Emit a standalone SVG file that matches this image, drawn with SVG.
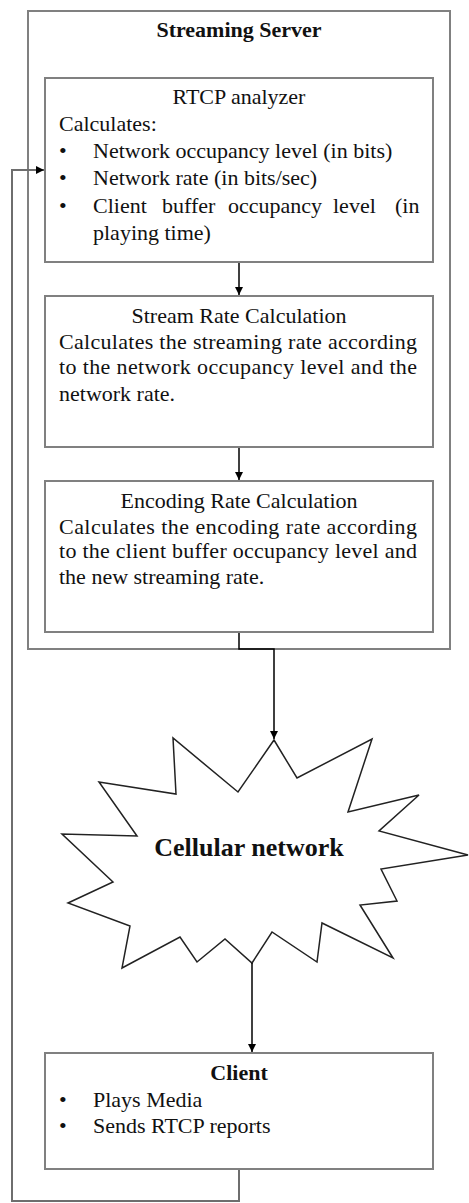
<svg xmlns="http://www.w3.org/2000/svg" width="469" height="1203" viewBox="0 0 469 1203">
  <style>
    .box { fill: #ffffff; stroke: #808080; stroke-width: 2; }
    .wire { fill: none; stroke: #000000; stroke-width: 1.5; }
    .loop { fill: none; stroke: #6e6e6e; stroke-width: 2; }
    .t { font-family: "Liberation Serif", "Times New Roman", serif; font-size: 22px; fill: #111111; }
    .b { font-weight: bold; }
    .c { text-anchor: middle; }
    .star { fill: #ffffff; stroke: #222222; stroke-width: 1.5; stroke-linejoin: miter; }
  </style>
  <defs>
    <marker id="arrow" viewBox="0 0 10 10" refX="10" refY="5" markerWidth="8" markerHeight="8" markerUnits="userSpaceOnUse" orient="auto">
      <path d="M0,0 L10,5 L0,10 z" fill="#000000"/>
    </marker>
  </defs>

  <rect width="469" height="1203" fill="#ffffff"/>

  <!-- server container -->
  <g id="streaming-server">
    <rect class="box" x="28" y="11" width="422" height="638"/>
    <text class="t b c" x="239" y="37">Streaming Server</text>
  </g>

  <g id="rtcp-analyzer">
    <rect class="box" x="45" y="78" width="388" height="184"/>
    <text class="t c" x="239" y="104">RTCP analyzer</text>
    <text class="t" x="59" y="131">Calculates:</text>
    <text class="t" x="59" y="158">•</text>
    <text class="t" x="93" y="158">Network occupancy level (in bits)</text>
    <text class="t" x="59" y="185">•</text>
    <text class="t" x="93" y="185">Network rate (in bits/sec)</text>
    <text class="t" x="59" y="213">•</text>
    <text class="t" y="213"><tspan x="93">Client</tspan><tspan x="162">buffer</tspan><tspan x="228">occupancy</tspan><tspan x="333">level</tspan><tspan x="395">(in</tspan></text>
    <text class="t" x="93" y="240">playing time)</text>
  </g>

  <g id="stream-rate">
    <rect class="box" x="45" y="296" width="388" height="151"/>
    <text class="t c" x="239" y="323">Stream Rate Calculation</text>
    <text class="t" x="59" y="349" textLength="358" lengthAdjust="spacing">Calculates the streaming rate according</text>
    <text class="t" x="59" y="374" textLength="358" lengthAdjust="spacing">to the network occupancy level and the</text>
    <text class="t" x="59" y="401">network rate.</text>
  </g>

  <g id="encoding-rate">
    <rect class="box" x="45" y="481" width="388" height="151"/>
    <text class="t c" x="239" y="508">Encoding Rate Calculation</text>
    <text class="t" x="59" y="534" textLength="358" lengthAdjust="spacing">Calculates the encoding rate  according</text>
    <text class="t" x="59" y="558" textLength="358" lengthAdjust="spacing">to the client buffer occupancy level and</text>
    <text class="t" x="59" y="584">the new streaming rate.</text>
  </g>

  <g id="cellular-network">
    <polygon class="star" points="274,740 297,778 372,739 348,812 419,795 379,831 468,855 381,869 397,901 360,905 393,958 322,923 317,962 272,932 252,963 225,939 197,962 180,937 122,968 130,926 68,903 113,882 62,834 137,836 99,782 176,794 173,738 238,792"/>
    <text class="t b c" x="249" y="856" style="font-size:26px">Cellular network</text>
  </g>

  <g id="client">
    <rect class="box" x="45" y="1053" width="388" height="116"/>
    <text class="t b c" x="239" y="1080">Client</text>
    <text class="t" x="59" y="1107">•</text>
    <text class="t" x="93" y="1107">Plays Media</text>
    <text class="t" x="59" y="1133">•</text>
    <text class="t" x="93" y="1133">Sends RTCP reports</text>
  </g>

  <!-- connectors -->
  <g id="connectors">
    <line class="wire" x1="239" y1="263" x2="239" y2="295" marker-end="url(#arrow)"/>
    <line class="wire" x1="239" y1="448" x2="239" y2="480" marker-end="url(#arrow)"/>
    <polyline class="wire" points="239,633 239,649 274,649 274,739" marker-end="url(#arrow)"/>
    <line class="wire" x1="252" y1="963" x2="252" y2="1052" marker-end="url(#arrow)"/>
    <polyline class="loop" points="239,1170 239,1201 12,1201 12,170 44,170" marker-end="url(#arrow)"/>
  </g>
</svg>
